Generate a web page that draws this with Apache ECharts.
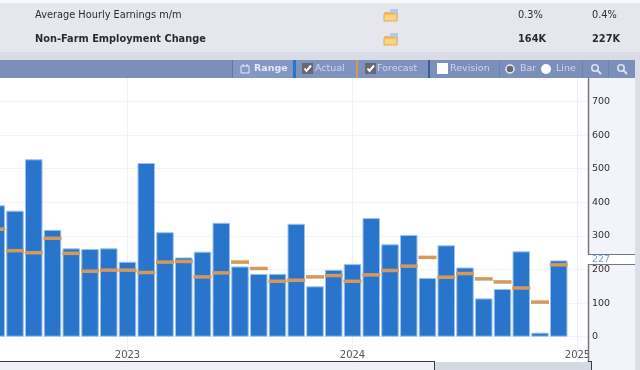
<!DOCTYPE html>
<html><head><meta charset="utf-8">
<style>html,body{margin:0;padding:0;background:#fff}#c{width:640px;height:370px}</style>
<script src="https://cdn.jsdelivr.net/npm/echarts@6/dist/echarts.min.js"></script></head>
<body><div id="c"></div>
<script>
const months = ['2022-06','2022-07','2022-08','2022-09','2022-10','2022-11','2022-12',
 '2023-01','2023-02','2023-03','2023-04','2023-05','2023-06','2023-07','2023-08','2023-09','2023-10','2023-11','2023-12',
 '2024-01','2024-02','2024-03','2024-04','2024-05','2024-06','2024-07','2024-08','2024-09','2024-10','2024-11','2024-12','2025-01'];
const actual = [391,375,528,318,263,261,263,223,517,311,236,253,339,209,187,187,336,150,199,216,353,275,303,175,272,206,114,142,254,12,227,null];
const forecast = [320,256,250,293,248,195,198,198,191,222,224,178,190,222,203,165,168,178,182,165,184,197,210,236,177,188,172,163,145,103,214,null];
const yTicks = [0,100,200,300,400,500,600,700];
const topRows = [
 {name:'Average Hourly Earnings m/m', actual:'0.3%', forecast:'0.4%', bold:false, y:15.5},
 {name:'Non-Farm Employment Change', actual:'164K', forecast:'227K', bold:true, y:39.5}
];
const toolbarLabels = [['Actual',315],['Forecast',377],['Revision',450],['Bar',520],['Line',556]];
const lastValue = '227';

const FONT = 'DejaVu Sans';
const rect = (x,y,w,h,fill,z=3,extra={}) => ({type:'rect',shape:{x,y,width:w,height:h},style:{fill,...extra},z,silent:true});
const txt = (x,y,text,fill,size,weight='normal',z=10,align='left') => ({type:'text',x,y,z,silent:true,style:{text,fill,font:`${weight} ${size}px "${FONT}"`,textAlign:align,textVerticalAlign:'middle'}});
const line = (x1,y1,x2,y2,stroke,lw=1,z=8) => ({type:'line',shape:{x1,y1,x2,y2},style:{stroke,lineWidth:lw},z,silent:true});

function folder(x,y){return [
 rect(x+6,y,8,9,'#aecbea',9),
 rect(x,y+3,9,3,'#f2b866',9),
 rect(x,y+5,13,7,'#f7d67f',10,{stroke:'#eaa850',lineWidth:1})];}
function check(x,y,w){return [
 rect(x,y,w,w,'#66686e',9),
 {type:'polyline',shape:{points:[[x+2.5,y+5.5],[x+4.5,y+8],[x+9,y+2.5]]},style:{stroke:'#fff',lineWidth:2,fill:'none'},z:10,silent:true}];}
function mag(cx,cy){return [
 {type:'circle',shape:{cx,cy,r:3.2},style:{stroke:'#dbe2f0',lineWidth:1.6,fill:'none'},z:10,silent:true},
 line(cx+2.5,cy+2.5,cx+6,cy+6,'#dbe2f0',2,10)];}

const g = [
 rect(0,0,640,3,'#f8f9fb'),
 rect(0,3,640,49,'#e6e7ee'),
 rect(0,52,640,8,'#d9dce6'),
 rect(635,60,5,310,'#dcdfe8'),
 rect(0,60,635,18,'#7b8fb9',4),
 rect(233,60,59,18,'#8497c2',5),
 rect(292,60,64,18,'#8093bf',5),
 rect(358,60,70,18,'#7f92be',5),
 rect(232,60,1,18,'#5f76a8',6),
 rect(293,60,3,18,'#2a75cc',6),
 rect(356,60,2,18,'#d39a5c',6),
 rect(428,60,2,18,'#3c5c9c',6),
 rect(499,60,1,18,'#6c82b0',6),
 rect(582,60,1,18,'#6c82b0',6),
 rect(608,60,1,18,'#6c82b0',6),
 rect(588,78,47,292,'#f3f4f9'),
 line(588.5,78,588.5,254,'#77787c',1.5),
 line(588,254.5,635,254.5,'#77787c',1),
 rect(588,255,47,9,'#ffffff',7),
 line(588,264.5,635,264.5,'#77787c',1),
 line(588.5,264,588.5,362,'#77787c',1.5),
 txt(592,259.5,lastValue,'#6aa2ea',9.5),
 rect(0,362,434,8,'#f0f1f7',7),
 rect(434,362,157,8,'#d3d8e3',7),
 line(0,361.5,434,361.5,'#3d3d3f',1),
 line(434.5,361,434.5,370,'#3d3d3f',1),
 line(588,361.5,591,361.5,'#3d3d3f',1),
 line(591.5,361,591.5,370,'#3d3d3f',1),
 ...folder(384,9),...folder(384,33),
 ...check(302,63,11),...check(365,63,11),
 rect(437,63,11,11,'#ffffff',9),
 {type:'circle',shape:{cx:510,cy:69,r:4},style:{fill:'#66686e',stroke:'#e8ebf2',lineWidth:1.5},z:9,silent:true},
 {type:'circle',shape:{cx:546,cy:69,r:5},style:{fill:'#ffffff'},z:9,silent:true},
 ...mag(595,68),...mag(621,68),
 rect(241,66,8,7,'none',9,{stroke:'#e6ebf5',lineWidth:1}),
 line(243,64,243,67,'#e6ebf5',1,9),line(247,64,247,67,'#e6ebf5',1,9),
 txt(254,69,'Range','#e4e9f3',9.5,'bold')
];
topRows.forEach((r,i)=>{
 const w = r.bold?'bold':'normal';
 g.push(txt(35,r.y,r.name,'#2a2b30',9.8,w));
 g.push(txt(518,r.y,r.actual,'#2a2b30',9.8,w));
 g.push(txt(592,r.y,r.forecast,'#2a2b30',9.8,w));
});
toolbarLabels.forEach(([t,x])=>g.push(txt(x,69,t,'#cfd7e8',9.5)));

const isJan = (i,v)=>v.endsWith('-01');
const chart = echarts.init(document.getElementById('c'),null,{renderer:'canvas'});
chart.setOption({
 animation:false,
 graphic:{elements:g},
 grid:{left:-13.125,width:600,top:67.9,height:302.4,containLabel:false,outerBoundsMode:'none'},
 xAxis:{type:'category',data:months,z:1,
  axisLine:{show:false},axisTick:{show:false},
  axisLabel:{inside:true,margin:10,interval:isJan,formatter:v=>v.slice(0,4),color:'#55565b',fontFamily:FONT,fontSize:10,hideOverlap:false},
  splitLine:{show:true,alignWithLabel:true,interval:isJan,lineStyle:{color:'#eef0f6',width:1}}},
 yAxis:[
  {type:'value',position:'right',min:-100,max:800,interval:100,z:0,
   axisLine:{show:false},axisTick:{show:false},axisLabel:{show:false},
   splitLine:{show:true,lineStyle:{color:'#f2f3f8',width:1}}},
  {type:'value',position:'right',min:-100,max:800,interval:100,z:9,
   axisLine:{show:false},axisTick:{show:false},splitLine:{show:false},
   axisLabel:{margin:5,color:'#2f3034',fontFamily:FONT,fontSize:9.5,showMinLabel:false,showMaxLabel:false,
     formatter:v=>yTicks.includes(v)?String(v):''}}
 ],
 series:[
  {type:'bar',name:'Actual',data:actual,barWidth:17.5,z:2,clip:false,
   itemStyle:{color:'#2a75cc',borderColor:'#9cc3ee',borderWidth:1}},
  {type:'scatter',name:'Forecast',data:forecast,symbol:'rect',symbolSize:[18,3.5],z:3,clip:false,
   itemStyle:{color:'#d39a5c',opacity:1}}
 ]
});
</script></body></html>
